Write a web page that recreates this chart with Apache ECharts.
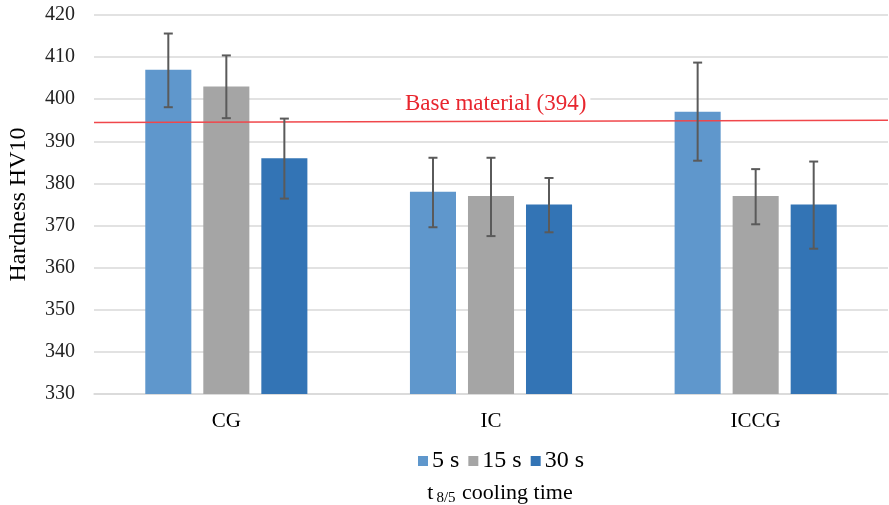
<!DOCTYPE html>
<html lang="en">
<head>
    <meta charset="UTF-8">
    <script src="https://cdn.jsdelivr.net/npm/echarts@6/dist/echarts.min.js"></script>
    <title>Hardness_Bar</title>
</head>
<body style="margin:0;background:#fff;">
    <div id="bar_1" style="width: 889px;height:505px;"></div>
    <script type="text/javascript">
        // zones and cooling times
        var zones = ['CG', 'IC', 'ICCG'];
        var seriesNames = ['5 s', '15 s', '30 s'];
        var yTicks = [330, 340, 350, 360, 370, 380, 390, 400, 410, 420];

        // mean hardness per zone
        var hv5 = [407, 378, 397];
        var hv15 = [403, 377, 377];
        var hv30 = [386, 375, 375];

        // error bar ends (low / high)
        var low5 = [398.1, 369.6, 385.4];
        var high5 = [415.6, 386.1, 408.7];
        var low15 = [395.5, 367.5, 370.3];
        var high15 = [410.4, 386.1, 383.4];
        var low30 = [376.4, 368.4, 364.5];
        var high30 = [395.4, 381.3, 385.2];

        // base material reference line (slightly tilted as drawn)
        var baseLine = [[0, 394.5], [1, 395.0]];
        var baseLabel = 'Base material (394)';

        var colors = ['#5f97cc', '#a5a5a5', '#3374b5'];
        var serif = 'Liberation Serif';

        var Chart_bar_1 = echarts.init(document.getElementById('bar_1'));

        function errData(lo, hi) {
            return zones.map(function (z, i) { return [i, lo[i], hi[i]]; });
        }

        function errSeries(idx, lo, hi) {
            return {
                type: 'custom',
                name: seriesNames[idx] + ' err',
                z: 5,
                silent: true,
                data: errData(lo, hi),
                renderItem: function (params, api) {
                    var band = api.size([1, 0])[0];
                    var off = (idx - 1) * band * 0.174 * 1.26;
                    var p1 = api.coord([api.value(0), api.value(1)]);
                    var p2 = api.coord([api.value(0), api.value(2)]);
                    var x = p1[0] + off;
                    var cap = 4.5;
                    var st = { stroke: '#5a5a5a', lineWidth: 2 };
                    return {
                        type: 'group',
                        children: [
                            { type: 'line', shape: { x1: x, y1: p1[1], x2: x, y2: p2[1] }, style: st },
                            { type: 'line', shape: { x1: x - cap, y1: p1[1], x2: x + cap, y2: p1[1] }, style: st },
                            { type: 'line', shape: { x1: x - cap, y1: p2[1], x2: x + cap, y2: p2[1] }, style: st }
                        ]
                    };
                }
            };
        }

        var option_bar_1 = {
            animation: false,
            backgroundColor: '#fff',
            color: colors,
            textStyle: { fontFamily: serif },
            grid: {
                left: 94,
                right: 1,
                top: 15,
                bottom: 111,
                containLabel: false,
                outerBoundsMode: 'none'
            },
            legend: {
                data: seriesNames,
                bottom: 27,
                left: 413,
                icon: 'rect',
                itemWidth: 10,
                itemHeight: 10,
                itemGap: 9,
                textStyle: { fontFamily: serif, fontSize: 24, color: '#000', padding: [0, 0, 0, -1] }
            },
            graphic: [{
                type: 'text',
                left: 401,
                top: 92,
                style: {
                    text: baseLabel,
                    font: '23px ' + serif,
                    fill: '#e8262e',
                    backgroundColor: '#fff',
                    padding: [0, 4, 0, 4]
                },
                z: 10
            }],
            xAxis: [{
                type: 'category',
                data: zones,
                name: '{t|t}{s|8/5}{t| cooling time}',
                nameLocation: 'middle',
                nameGap: 87,
                nameTextStyle: {
                    padding: [0, 0, 0, 18],
                    rich: {
                        t: { fontFamily: serif, fontSize: 22, color: '#000' },
                        s: { fontFamily: serif, fontSize: 15, color: '#000', padding: [10, 1, 0, 3] }
                    }
                },
                axisTick: { show: false },
                axisLine: { lineStyle: { color: '#d9d9d9', width: 1.5 } },
                axisLabel: { fontFamily: serif, fontSize: 21, color: '#000', margin: 17 }
            }, {
                type: 'value',
                min: 0,
                max: 1,
                show: false
            }],
            yAxis: [{
                type: 'value',
                min: 330,
                max: 420,
                interval: 10,
                name: 'Hardness HV10',
                nameLocation: 'middle',
                nameGap: 63,
                nameTextStyle: { fontFamily: serif, fontSize: 24, color: '#000' },
                axisLine: { show: false },
                axisTick: { show: false },
                axisLabel: {
                    fontFamily: serif, fontSize: 20, color: '#222', margin: 19,
                    formatter: function (v) { return yTicks.indexOf(v) >= 0 ? String(v) : ''; }
                },
                splitLine: { lineStyle: { color: '#d9d9d9', width: 1.5 } }
            }],
            series: [
                { type: 'bar', name: seriesNames[0], data: hv5, barWidth: '17.4%', barGap: '26%' },
                { type: 'bar', name: seriesNames[1], data: hv15, barWidth: '17.4%', barGap: '26%' },
                { type: 'bar', name: seriesNames[2], data: hv30, barWidth: '17.4%', barGap: '26%' },
                errSeries(0, low5, high5),
                errSeries(1, low15, high15),
                errSeries(2, low30, high30),
                {
                    type: 'line',
                    name: 'Base material',
                    xAxisIndex: 1,
                    data: baseLine,
                    symbol: 'none',
                    silent: true,
                    z: 4,
                    lineStyle: { color: '#f0474b', width: 1.5 }
                }
            ]
        };
        Chart_bar_1.setOption(option_bar_1);
    </script>
</body>
</html>
